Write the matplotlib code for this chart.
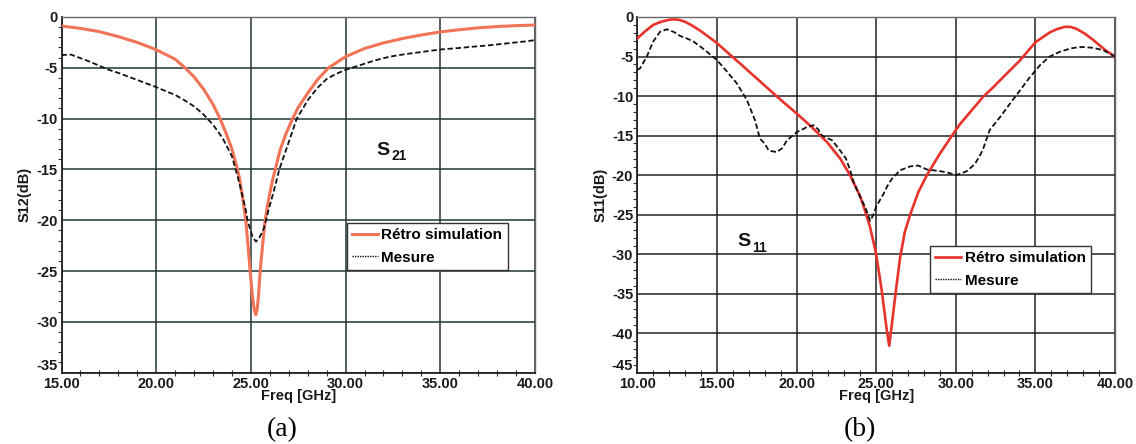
import matplotlib
matplotlib.use("Agg")
import matplotlib.pyplot as plt
from matplotlib.ticker import MultipleLocator, FormatStrFormatter

# ---------------- data: panel (a) S21 ----------------
fa_sim = [15, 16, 17, 18, 19, 20, 21, 21.52, 22, 22.5, 23, 23.37, 23.7, 24.0, 24.25, 24.39, 24.55, 24.73,
          24.85, 24.96, 25.08, 25.18, 25.26, 25.33, 25.4, 25.49, 25.62, 25.75, 25.95, 26.15, 26.3, 26.54,
          26.85, 27.2, 27.5, 28, 28.5, 29.1, 30, 31, 32, 33, 34, 35, 36, 37, 38, 39, 40]
sa_sim = [-0.89, -1.12, -1.44, -1.93, -2.5, -3.22, -4.15, -5.0, -5.9, -7.1, -8.6, -10.0, -11.5, -13.0,
          -14.7, -15.8, -17.6, -20.0, -22.5, -25.0, -27.5, -28.8, -29.3, -28.8, -27.5, -25.0, -22.4, -20.0,
          -17.8, -16.0, -14.9, -13.1, -11.5, -10.0, -8.9, -7.5, -6.2, -5.0, -3.9, -3.1, -2.55, -2.12, -1.77,
          -1.47, -1.25, -1.07, -0.94, -0.85, -0.79]
fa_mes = [15, 15.5, 16, 16.5, 17, 17.5, 18, 18.5, 19, 19.5, 20, 20.5, 21, 21.5, 22, 22.5, 23, 23.5, 24, 24.3,
          24.5, 24.73, 24.82, 24.96, 25.1, 25.27, 25.45, 25.67, 25.8, 25.93, 26.2, 26.5, 27.0, 27.42, 28,
          28.5, 29, 29.5, 30, 30.5, 31, 31.5, 32, 32.5, 33, 33.5, 34, 34.5, 35, 35.5, 36, 36.5, 37, 37.5, 38,
          38.5, 39, 39.5, 40]
sa_mes = [-3.74, -3.7, -4.05, -4.4, -4.8, -5.2, -5.5, -5.85, -6.2, -6.55, -6.9, -7.3, -7.67, -8.2, -8.8,
          -9.6, -10.6, -11.9, -13.7, -15.7, -17.2, -19.0, -20.0, -20.9, -21.7, -22.1, -21.7, -20.9, -20.0,
          -19.0, -17.2, -15.0, -12.3, -10.0, -8.2, -7.0, -6.1, -5.6, -5.2, -4.9, -4.6, -4.3, -4.05, -3.85,
          -3.7, -3.57, -3.45, -3.32, -3.2, -3.12, -3.05, -2.96, -2.88, -2.8, -2.7, -2.6, -2.5, -2.4, -2.28]

# ---------------- data: panel (b) S11 ----------------
fb_sim = [10, 10.5, 11, 11.5, 12, 12.26, 12.6, 13, 13.5, 14, 14.37, 15, 15.7, 16.46, 17.6, 18.76, 20,
          20.86, 21.9, 22.74, 23.37, 24.0, 24.3, 24.62, 25.0, 25.35, 25.66, 25.82, 26.07, 26.28, 26.5, 26.8,
          27.14, 27.64, 28.19, 29.0, 29.97, 30.25, 31, 31.72, 32.4, 32.98, 34.03, 35, 35.9, 36.4, 36.85,
          37.2, 37.58, 38.1, 38.63, 39.1, 39.47, 40]
sb_sim = [-2.7, -1.8, -1.0, -0.6, -0.35, -0.3, -0.35, -0.6, -1.15, -1.8, -2.35, -3.3, -4.55, -5.9, -7.95,
          -10.05, -12.2, -13.75, -15.8, -17.9, -20.05, -22.7, -24.5, -26.6, -30.0, -34.6, -39.5, -41.6, -37.5,
          -34.0, -30.5, -27.2, -25.0, -22.2, -20.0, -17.3, -14.4, -13.6, -11.8, -10.1, -8.8, -7.6, -5.5,
          -3.2, -1.95, -1.5, -1.25, -1.25, -1.5, -2.1, -2.9, -3.7, -4.3, -5.0]
fb_mes = [10, 10.17, 10.59, 11.0, 11.43, 11.85, 12.3, 12.69, 13.1, 13.52, 14.0, 14.37, 15.0, 15.63, 16.25,
          16.88, 17.4, 17.7, 18.0, 18.25, 18.5, 18.76, 19.1, 19.4, 19.7, 20.03, 20.4, 20.66, 21.08, 21.35,
          21.6, 21.9, 22.24, 22.74, 23.1, 23.37, 23.6, 24.0, 24.3, 24.62, 24.83, 25.0, 25.2, 25.46, 25.7,
          25.98, 26.5, 27.14, 27.64, 28.19, 28.6, 29.0, 29.5, 30.0, 30.35, 30.7, 31.2, 31.5, 31.7, 32.13,
          32.77, 33.39, 34.03, 34.66, 35.29, 35.9, 36.54, 37.17, 37.6, 38.0, 38.63, 39.26, 40]
sb_mes = [-6.7, -6.5, -5.04, -3.1, -1.86, -1.56, -1.9, -2.4, -2.7, -3.1, -3.8, -4.4, -5.45, -6.9, -8.4,
          -10.5, -13.1, -15.4, -16.0, -16.9, -17.0, -17.1, -16.6, -15.6, -15.1, -14.55, -14.2, -13.9, -13.7,
          -14.2, -15.0, -15.3, -15.6, -16.9, -17.9, -19.4, -21.0, -22.8, -24.0, -25.8, -25.0, -24.0, -23.3,
          -22.4, -21.4, -20.5, -19.4, -18.9, -18.8, -19.3, -19.4, -19.5, -19.7, -20.0, -19.8, -19.5, -18.6,
          -17.6, -16.8, -14.3, -12.7, -11.0, -9.3, -7.6, -6.1, -5.0, -4.4, -4.0, -3.85, -3.8, -3.9, -4.2, -5.0]

xticks_a = [15, 20, 25, 30, 35, 40]
yticks_a = [0, -5, -10, -15, -20, -25, -30, -35]
xticks_b = [10, 15, 20, 25, 30, 35, 40]
yticks_b = [0, -5, -10, -15, -20, -25, -30, -35, -40, -45]

legend_labels = ["Rétro simulation", "Mesure"]

plt.rcParams['font.family'] = ['Liberation Sans', 'DejaVu Sans']

W, H = 1136, 444
fig = plt.figure(figsize=(W / 100, H / 100), dpi=100)
ax_a = fig.add_axes([61.5 / W, 1 - 372.6 / H, 473.5 / W, 355.6 / H])
ax_b = fig.add_axes([637.3 / W, 1 - 372.6 / H, 477.7 / W, 355.6 / H])


def style(ax, xt, yt, ylab, xlim, ylim, grid_col):
    ax.set_xlim(*xlim)
    ax.set_ylim(*ylim)
    ax.set_xticks(xt)
    ax.set_yticks(yt)
    ax.xaxis.set_major_formatter(FormatStrFormatter('%.2f'))
    ax.yaxis.set_major_formatter(FormatStrFormatter('%d'))
    ax.xaxis.set_minor_locator(MultipleLocator(1))
    ax.yaxis.set_minor_locator(MultipleLocator(1))
    ax.grid(True, which='major', color=grid_col, linewidth=1.1)
    ax.tick_params(which='both', top=False, right=False, color='#333333')
    ax.tick_params(which='major', length=0, labelsize=10.5, pad=3)
    ax.tick_params(axis='x', which='minor', direction='inout', length=5, width=0.8)
    ax.tick_params(axis='y', which='minor', direction='out', length=3, width=0.8)
    for lab in ax.get_xticklabels() + ax.get_yticklabels():
        lab.set_fontweight('bold')
        lab.set_color('#1a1a1a')
    for s in ax.spines.values():
        s.set_color('#666666')
        s.set_linewidth(1.0)
    ax.spines['left'].set_color('#222222')
    ax.spines['bottom'].set_color('#222222')
    ax.spines['left'].set_linewidth(1.3)
    ax.spines['bottom'].set_linewidth(1.3)
    ax.set_xlabel('Freq [GHz]', fontsize=10.5, fontweight='bold', labelpad=-1, color='#1a1a1a')
    ax.set_ylabel(ylab, fontsize=10.5, fontweight='bold', labelpad=3, color='#1a1a1a')


style(ax_a, xticks_a, yticks_a, 'S12(dB)', (15, 40), (-35, 0), '#203535')
style(ax_b, xticks_b, yticks_b, 'S11(dB)', (10, 40), (-45, 0), '#222222')

# nudge the bottom-most y label up a little so it does not collide with the x labels
for ax in (ax_a, ax_b):
    ax.get_yticklabels()[-1].set_va('bottom')

ax_a.plot(fa_sim, sa_sim, color='#F27456', lw=2.2, label=legend_labels[0], zorder=3)
ax_a.plot(fa_mes, sa_mes, color='#111111', lw=1.3, ls=(0, (3, 1.5)), label=legend_labels[1], zorder=4)
ax_b.plot(fb_sim, sb_sim, color='#E8332B', lw=1.9, label=legend_labels[0], zorder=3)
ax_b.plot(fb_mes, sb_mes, color='#111111', lw=1.3, ls=(0, (3, 1.5)), label=legend_labels[1], zorder=4)

for ax, loc in ((ax_a, (0.603, 0.421)), (ax_b, (0.613, 0.356))):
    h, l = ax.get_legend_handles_labels()
    leg = ax.legend(h, l, loc='upper left', bbox_to_anchor=loc, frameon=True, fancybox=False,
                    prop={'weight': 'bold', 'size': 11}, handlelength=1.65, handletextpad=0.25,
                    borderpad=0.35, labelspacing=0.55, borderaxespad=0)
    leg.get_frame().set_edgecolor('#333333')
    leg.get_frame().set_linewidth(1.0)
    leg.get_frame().set_alpha(1)
    leg.set_zorder(6)
    leg.get_lines()[1].set_linestyle((0, (1, 0.8)))
    leg.get_lines()[1].set_linewidth(1.0)

# S-parameter annotations (S with subscript)
ax_a.text(0.666, 0.612, 'S', transform=ax_a.transAxes, fontsize=14, fontweight='bold',
          color='#111111', va='baseline')
ax_a.text(0.697, 0.597, '21', transform=ax_a.transAxes, fontsize=10, fontweight='bold',
          color='#111111', va='baseline')
ax_b.text(0.210, 0.355, 'S', transform=ax_b.transAxes, fontsize=14, fontweight='bold',
          color='#111111', va='baseline')
ax_b.text(0.241, 0.340, '11', transform=ax_b.transAxes, fontsize=10, fontweight='bold',
          color='#111111', va='baseline')

fig.text(282 / W, 1 - 430 / H, '(a)', fontsize=20, family='Liberation Serif', ha='center', va='center')
fig.text(860 / W, 1 - 430 / H, '(b)', fontsize=20, family='Liberation Serif', ha='center', va='center')

fig.savefig('out.png', dpi=100)
